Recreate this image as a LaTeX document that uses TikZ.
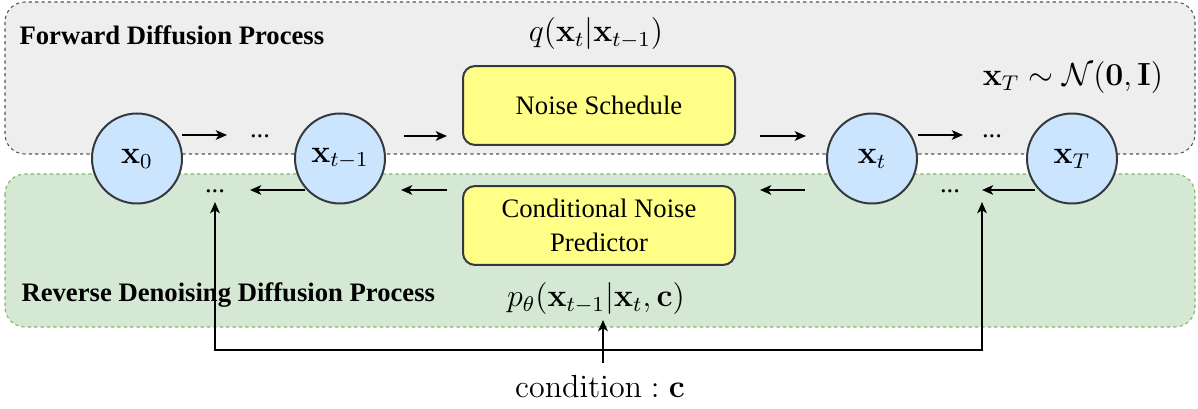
\documentclass[tikz,border=0pt]{standalone}
\usepackage[no-math]{fontspec}
\setmainfont{Liberation Serif}
\usetikzlibrary{arrows.meta}
\definecolor{grayfill}{HTML}{EEEEEE}
\definecolor{grayborder}{HTML}{555555}
\definecolor{greenfill}{HTML}{D5E8D4}
\definecolor{greenborder}{HTML}{82B366}
\definecolor{yellowfill}{HTML}{FFFF88}
\definecolor{bluefill}{HTML}{CCE5FF}
\definecolor{boxborder}{HTML}{36393D}
\begin{document}
\begin{tikzpicture}[x=0.375pt,y=-0.375pt,
  region/.style={rounded corners=7.5pt, line width=0.4pt, dash pattern=on 1.2pt off 1.2pt},
  procbox/.style={draw=boxborder, fill=yellowfill, rounded corners=4.5pt, minimum width=102pt,
    minimum height=29.6pt, line width=0.75pt, align=center, inner sep=0pt,
    font=\fontsize{10}{13}\selectfont},
  statenode/.style={circle, draw=boxborder, fill=bluefill, minimum size=33.75pt, inner sep=0pt,
    line width=0.75pt, font=\large},
  tip/.tip={Stealth[length=4.2pt,width=3.6pt,inset=1.1pt]},
  arr/.style={-tip, line width=0.7pt},
  dotsnode/.style={anchor=base, inner sep=0pt, font=\normalsize},
  title/.style={anchor=west, inner sep=0pt, font=\bfseries},
  mathlabel/.style={inner sep=0pt, font=\large}]
\useasboundingbox (0,0) rectangle (1198,409);

% regions
\draw[region, draw=grayborder, fill=grayfill] (5,2) rectangle (1195,154);
\draw[region, draw=greenborder, fill=greenfill] (5,174) rectangle (1195,327);

% titles and labels
\node[title] (fwdtitle) at (19,35) {Forward Diffusion Process};
\node[title] (revtitle) at (21,295) {Reverse Denoising Diffusion Process};
\node[mathlabel] (qlab) at (596,34) {$q\big(\mathbf{x}_t|\mathbf{x}_{t-1}\big)$};
\node[mathlabel] (prior) at (1073,78) {$\mathbf{x}_T\sim\mathcal{N}(\mathbf{0},\mathbf{I})$};
\node[mathlabel] (plab) at (596,299) {$p_\theta\big(\mathbf{x}_{t-1}|\mathbf{x}_t,\mathbf{c}\big)$};
\node[mathlabel] (cond) at (600,386) {$\mathrm{condition}:\mathbf{c}$};

% process boxes
\node[procbox] (noise) at (599,105.5) {Noise Schedule};
\node[procbox] (pred) at (599,225.5) {Conditional Noise\\Predictor};

% dots
\node[dotsnode] (d1) at (260,138) {...};
\node[dotsnode] (d2) at (992,138) {...};
\node[dotsnode] (d3) at (950,193) {...};
\node[dotsnode] (d4) at (215,193) {...};

% arrow coordinates
\coordinate (f1a) at (182,135); \coordinate (f1b) at (227,135);
\coordinate (f2a) at (404,136); \coordinate (f2b) at (447,136);
\coordinate (f3a) at (760,136); \coordinate (f3b) at (806,136);
\coordinate (f4a) at (918,135); \coordinate (f4b) at (963,135);
\coordinate (r1a) at (1035,190); \coordinate (r1b) at (982,190);
\coordinate (r2a) at (805,190); \coordinate (r2b) at (760,190);
\coordinate (r3a) at (447,190); \coordinate (r3b) at (401,190);
\coordinate (r4a) at (305,190); \coordinate (r4b) at (250,190);
\coordinate (lt) at (215,202); \coordinate (rt) at (982,202);
\coordinate (bus) at (600,350);
\coordinate (ca) at (603,363); \coordinate (cb) at (603,320);

\draw[arr] (f1a) -- (f1b);
\draw[arr] (f2a) -- (f2b);
\draw[arr] (f3a) -- (f3b);
\draw[arr] (f4a) -- (f4b);
\draw[arr] (r1a) -- (r1b);
\draw[arr] (r2a) -- (r2b);
\draw[arr] (r3a) -- (r3b);
\draw[arr] (r4a) -- (r4b);

% condition feed
\draw[arr] (ca) -- (cb);
\draw[arr, tip-tip] (lt) |- (bus) -| (rt);

% states
\node[statenode] (x0) at (137,158.5) {$\mathbf{x}_0$};
\node[statenode] (xtm1) at (340,158.5) {$\mathbf{x}_{t-1}$};
\node[statenode] (xt) at (872,158.5) {$\mathbf{x}_t$};
\node[statenode] (xT) at (1072,158.5) {$\mathbf{x}_T$};
\end{tikzpicture}
\end{document}
